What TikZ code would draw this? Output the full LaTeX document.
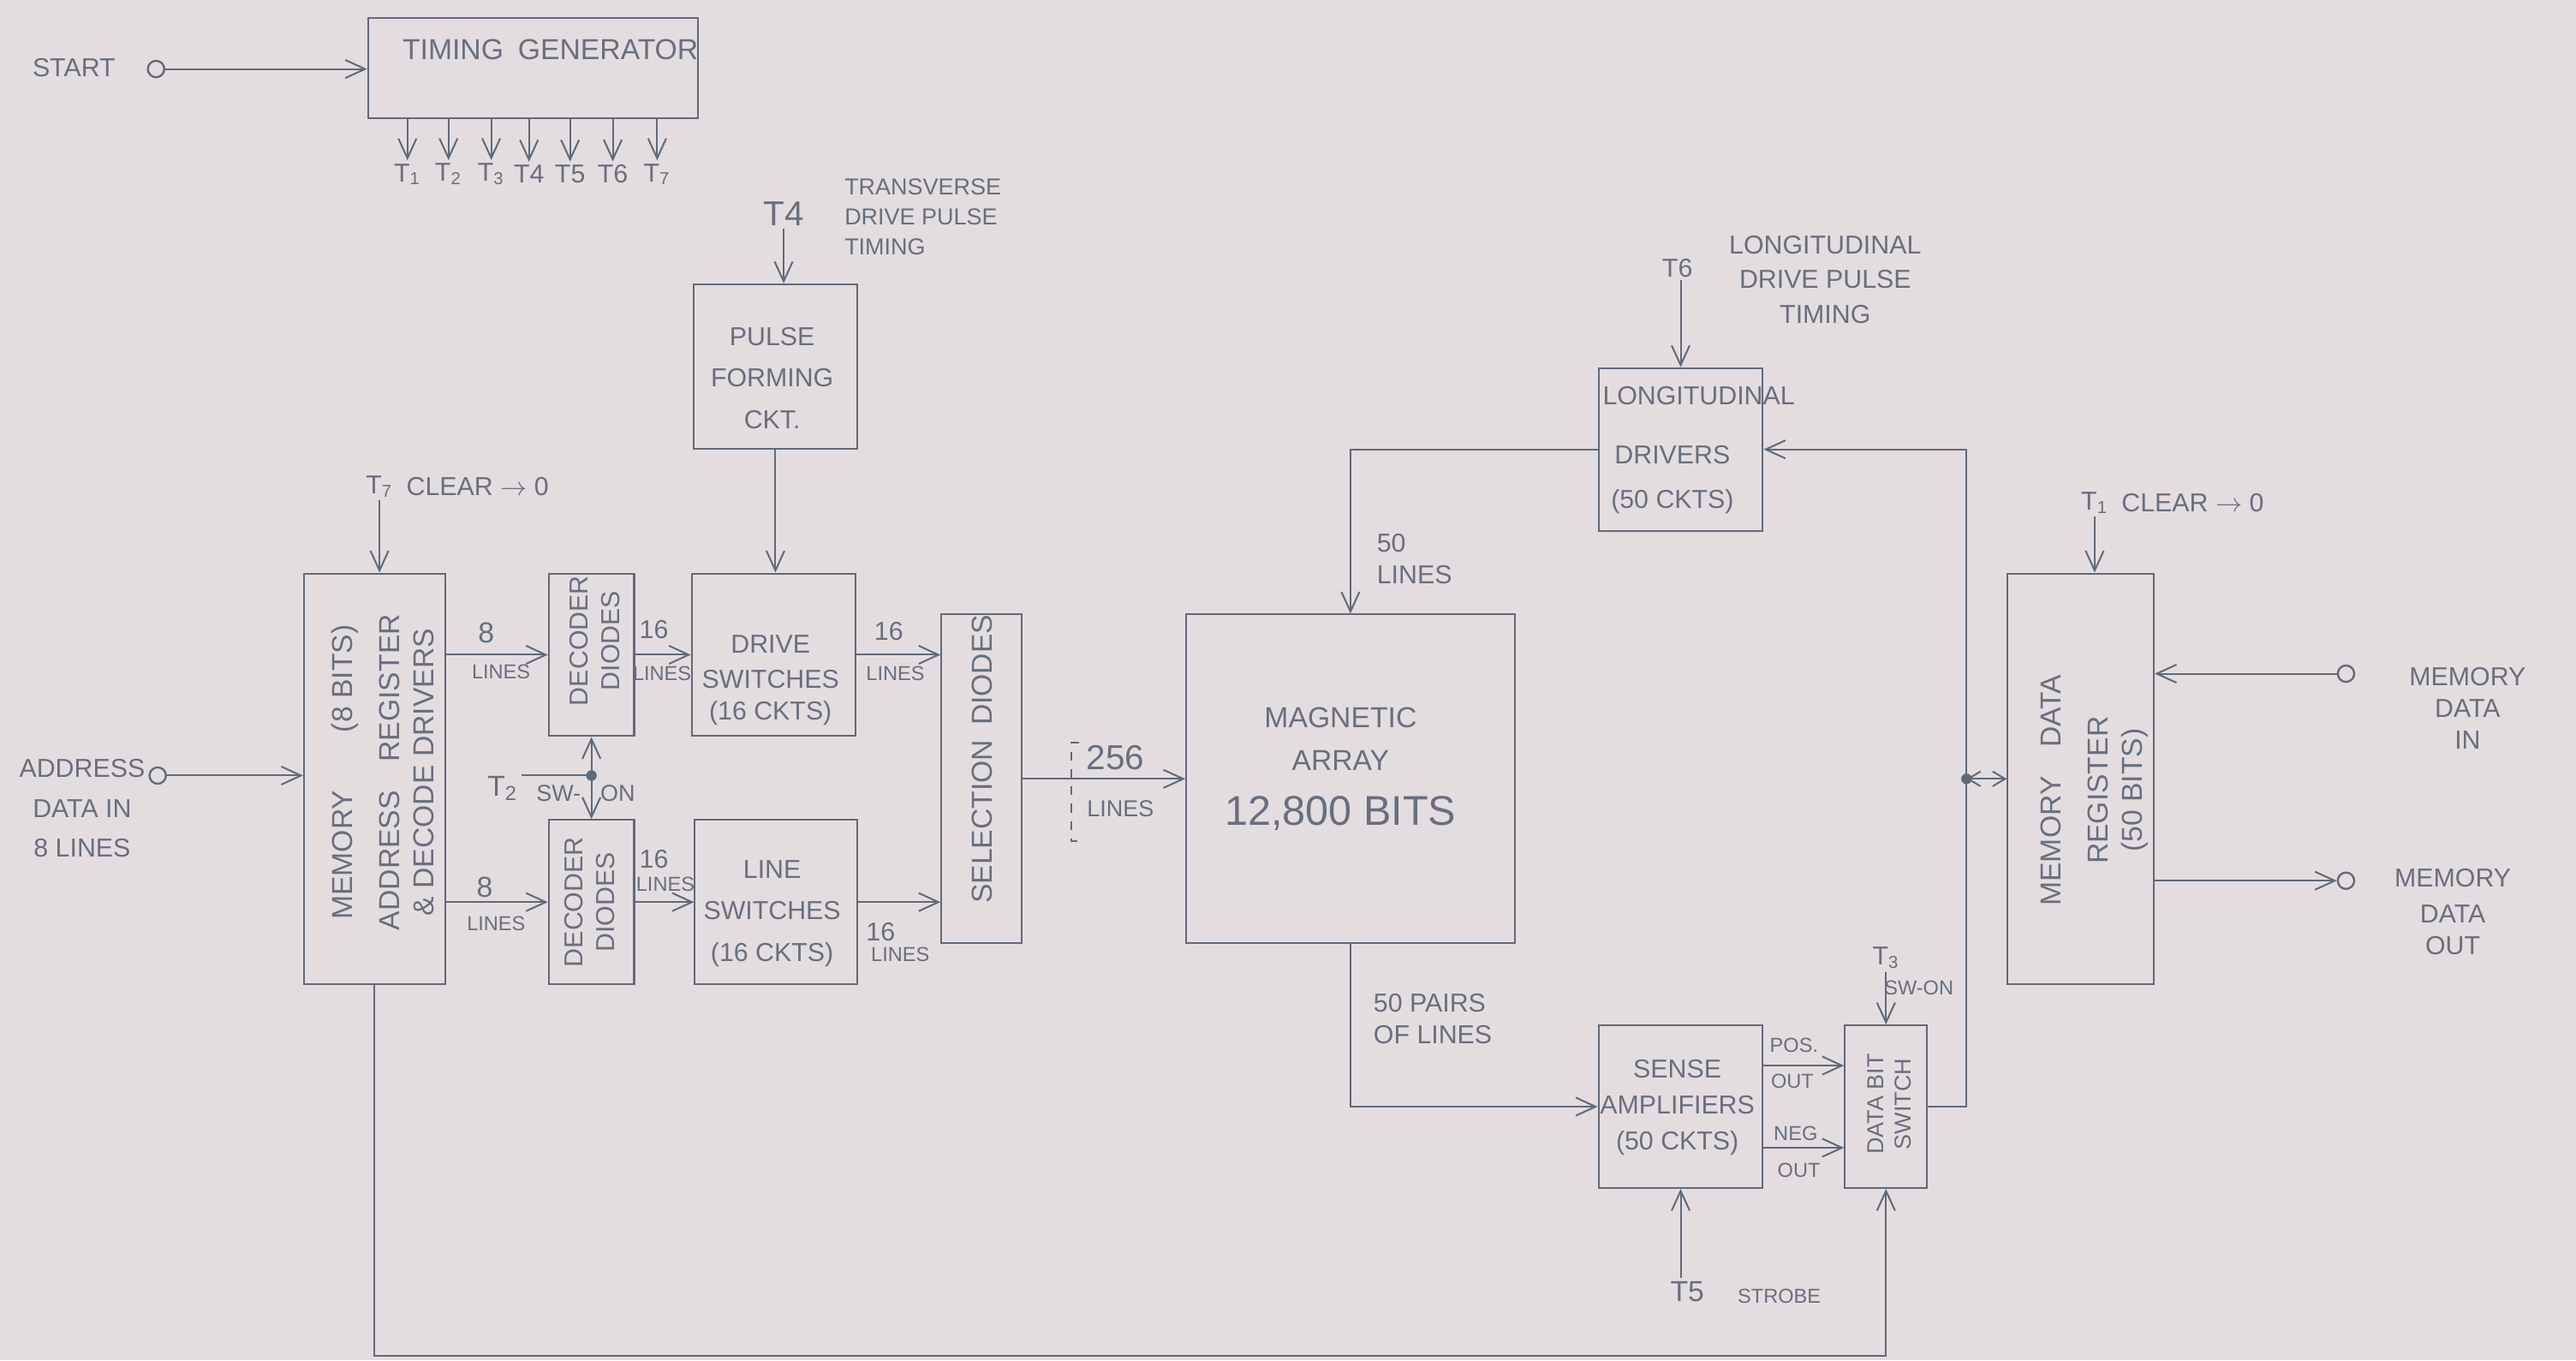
\documentclass[tikz,border=0pt]{standalone}
\usepackage{fontspec}
\setmainfont{Liberation Sans}
\usetikzlibrary{arrows.meta,calc,positioning}
\definecolor{paper}{RGB}{228,221,224}
\definecolor{pencil}{RGB}{96,106,122}
\definecolor{lead}{RGB}{104,111,126}
\tikzset{
  blk/.style={draw=pencil, line width=0.6pt, inner sep=0pt},
  bx/.style 2 args={blk, minimum width=#1, minimum height=#2},
  lbl/.style={text=lead, align=center, inner sep=1pt, font=\normalsize},
  sml/.style={lbl, font=\small},
  tny/.style={lbl, font=\scriptsize},
  arr/.style={draw=pencil, line width=0.6pt, -{Straight Barb[length=2.4mm,width=2.2mm]}},
  darr/.style={draw=pencil, line width=0.6pt, {Straight Barb[length=1.5mm,width=1.8mm]}-{Straight Barb[length=1.5mm,width=1.8mm]}},
  wire/.style={draw=pencil, line width=0.6pt},
  term/.style={circle, draw=pencil, line width=0.7pt, minimum size=2mm, inner sep=0pt},
  jdot/.style={circle, fill=pencil, minimum size=1.3mm, inner sep=0pt},
}
\begin{document}
\begin{tikzpicture}[x=0.2mm, y=-0.2mm]
  \useasboundingbox (0,0) rectangle (1568,828);
  \fill[paper] (0,0) rectangle (1568,828);

  % timing generator and its outputs
  \node[bx={40.2mm}{12.2mm}] (tgen) at (324.5,41.5) {};
  \node[lbl] at (335,30) {TIMING\enspace GENERATOR};
  \node[term] (startpin) at (95,42) {};
  \node[sml] at (45,41) {START};
  \draw[arr] (startpin) -- (startpin -| tgen.west);
  \foreach \n/\x/\t in {1/248/T\textsubscript{1}, 2/273/T\textsubscript{2}, 3/299/T\textsubscript{3},
                        4/322/T4, 5/347/T5, 6/373/T6, 7/400/T\textsubscript{7}} {
    \node[sml] (t\n) at (\x,106) {\t};
    \draw[arr] (t\n |- tgen.south) -- (t\n.north);
  }

  % transverse side
  \node[lbl, font=\large] (t4in) at (477,130) {T4};
  \node[lbl, font=\footnotesize, align=left, anchor=west] at (512,132) {TRANSVERSE\\[1pt]DRIVE PULSE\\[1pt]TIMING};
  \node[bx={20mm}{20mm}] (pfc) at (472,223) {};
  \node[sml] at (470,230) {PULSE\\[1.2mm]FORMING\\[1.2mm]CKT.};
  \draw[arr] (t4in.south) -- (t4in.south |- pfc.north);

  \node[bx={20mm}{19.8mm}] (drv) at (471,398.5) {};
  \node[sml] at (469,414) {DRIVE\\[0.5mm]SWITCHES\\(16 CKTS)};
  \draw[arr] (pfc.south) -- (pfc.south |- drv.north);
  \node[bx={19.8mm}{20mm}] (lsw) at (472.5,549) {};
  \node[sml] at (470,556) {LINE\\[1.2mm]SWITCHES\\[1.2mm](16 CKTS)};

  \node[bx={10.4mm}{19.8mm}] (dec1) at (360,398.5) {};
  \node[sml, rotate=90] at (362,390) {DECODER\\DIODES};
  \node[bx={10.4mm}{20mm}] (dec2) at (360,549) {};
  \node[sml, rotate=90] at (359,549) {DECODER\\DIODES};

  % memory address register
  \node[bx={17.2mm}{50mm}] (mar) at (228,474) {};
  \node[lbl, rotate=90] at (233,470) {MEMORY\qquad(8 BITS)\\[1.5mm]ADDRESS\quad REGISTER\\\& DECODE DRIVERS};
  \node[lbl, font=\small] (t7lbl) at (231,296) {T\textsubscript{7}};
  \node[sml, right=0.8mm of t7lbl] {CLEAR $\rightarrow$ 0};
  \draw[arr] (t7lbl.south) -- (t7lbl.south |- mar.north);
  \node[term] (adrpin) at (96,472) {};
  \node[sml] at (50,492) {ADDRESS\\[1mm]DATA IN\\[1mm]8 LINES};
  \draw[arr] (adrpin) -- (adrpin -| mar.west);

  \draw[arr] (dec1.west -| mar.east) -- (dec1.west);
  \node[lbl] at (296,385) {8};
  \node[tny] at (305,409) {LINES};
  \draw[arr] (dec2.west -| mar.east) -- (dec2.west);
  \node[lbl] at (295,540) {8};
  \node[tny] at (302,562) {LINES};

  % T2 switch-on into both decoders
  \coordinate (t2j) at (dec1.south |- adrpin);
  \node[lbl] (t2lbl) at (306,480) {T\textsubscript{2}};
  \draw[wire] (t2lbl.east |- t2j) -- (t2j);
  \draw[arr] (t2j) -- (dec1.south);
  \draw[arr] (t2j) -- (dec2.north);
  \node[jdot] at (t2j) {};
  \node[lbl, font=\footnotesize] at (340,483) {SW-};
  \node[lbl, font=\footnotesize] at (376,483) {ON};

  \draw[arr] (dec1.east) -- (drv.west);
  \node[sml] at (398,383) {16};
  \node[tny] at (403,410) {LINES};
  \draw[arr] (dec2.east) -- (lsw.west);
  \node[sml] at (398,523) {16};
  \node[tny] at (405,538) {LINES};

  % selection diodes and array
  \node[bx={9.8mm}{40mm}] (sel) at (597.5,474) {};
  \node[lbl, rotate=90] at (598,462) {SELECTION\enspace DIODES};
  \draw[arr] (drv.east) -- (drv.east -| sel.west);
  \node[sml] at (541,384) {16};
  \node[tny] at (545,410) {LINES};
  \draw[arr] (lsw.east) -- (lsw.east -| sel.west);
  \node[sml] at (536,567) {16};
  \node[tny] at (548,581) {LINES};

  \node[bx={40mm}{40mm}] (mag) at (822,474) {};
  \node[lbl] at (816,468) {MAGNETIC\\[1mm]ARRAY\\[2.5mm]{\Large 12,800 BITS}};
  \draw[arr] (sel.east) -- (mag.west);
  \draw[pencil, dashed, line width=0.5pt] (657,452) -| (652,512) -- (657,512);
  \node[lbl, font=\large] at (679,461) {256};
  \node[lbl, font=\footnotesize] at (682,492) {LINES};

  % longitudinal drivers
  \node[lbl, font=\small] (t6in) at (1021,163) {T6};
  \node[sml] at (1111,170) {LONGITUDINAL\\[1pt]DRIVE PULSE\\[1pt]TIMING};
  \node[bx={20mm}{19.8mm}] (ldrv) at (1023,273.5) {};
  \node[sml] at (1034,241) {LONGITUDINAL};
  \node[sml] at (1018,292) {DRIVERS\\[1.5mm](50 CKTS)};
  \draw[arr] (t6in.south -| ldrv.north) -- (ldrv.north);
  \draw[arr] (ldrv.west) -| (mag.north);
  \node[sml, align=left, anchor=west] at (836,340) {50\\LINES};

  % sense side
  \node[bx={20mm}{19.8mm}] (sns) at (1023,673.5) {};
  \node[sml] at (1021,674) {SENSE\\[0.5mm]AMPLIFIERS\\[0.5mm](50 CKTS)};
  \draw[arr] (mag.south) |- (sns.west);
  \node[sml, align=left, anchor=west] at (834,620) {50 PAIRS\\OF LINES};
  \node[lbl] (t5lbl) at (1027,786) {T5};
  \node[tny] at (1083,789) {STROBE};
  \draw[arr] (sns.south |- t5lbl.north) -- (sns.south);

  \node[bx={10mm}{19.8mm}] (dbs) at (1148,673.5) {};
  \node[lbl, font=\footnotesize, rotate=90] at (1150,672) {DATA BIT\\SWITCH};
  \draw[arr] ($(sns.north east)!0.25!(sns.south east)$) -- ($(dbs.north west)!0.25!(dbs.south west)$);
  \draw[arr] ($(sns.north east)!0.75!(sns.south east)$) -- ($(dbs.north west)!0.75!(dbs.south west)$);
  \node[tny] at (1092,636) {POS.};
  \node[tny] at (1091,658) {OUT};
  \node[tny] at (1093,690) {NEG};
  \node[tny] at (1095,712) {OUT};
  \node[lbl, font=\small] (t3lbl) at (1148,583) {T\textsubscript{3}};
  \node[tny] at (1168,601) {SW-ON};
  \draw[arr] (t3lbl.south) -- (t3lbl.south |- dbs.north);

  % return paths
  \coordinate (busy) at (0,825);
  \draw[arr] (mar.south) -- (mar.south |- busy) -| (dbs.south);
  \coordinate (rbus) at (1197,474);
  \draw[arr] (dbs.east) -| (rbus) -- (rbus |- ldrv.east) -- (ldrv.east);

  % memory data register
  \node[bx={17.8mm}{50mm}] (mdr) at (1266.5,474) {};
  \node[lbl, rotate=90] at (1275,481) {MEMORY\quad DATA\\[1.5mm]REGISTER\\(50 BITS)};
  \draw[darr] (rbus) -- (rbus -| mdr.west);
  \node[jdot] at (rbus) {};
  \node[lbl, font=\small] (t1lbl) at (1275,306) {T\textsubscript{1}};
  \node[sml, right=0.8mm of t1lbl] {CLEAR $\rightarrow$ 0};
  \draw[arr] (t1lbl.south) -- (t1lbl.south |- mdr.north);

  \node[term] (mdinpin) at (1428,410) {};
  \draw[arr] (mdinpin) -- (mdinpin -| mdr.east);
  \node[sml] at (1502,431) {MEMORY\\DATA\\IN};
  \node[term] (mdoutpin) at (1428,536) {};
  \draw[arr] (mdoutpin -| mdr.east) -- (mdoutpin);
  \node[sml] at (1493,555) {MEMORY\\[0.5mm]DATA\\OUT};
\end{tikzpicture}
\end{document}
